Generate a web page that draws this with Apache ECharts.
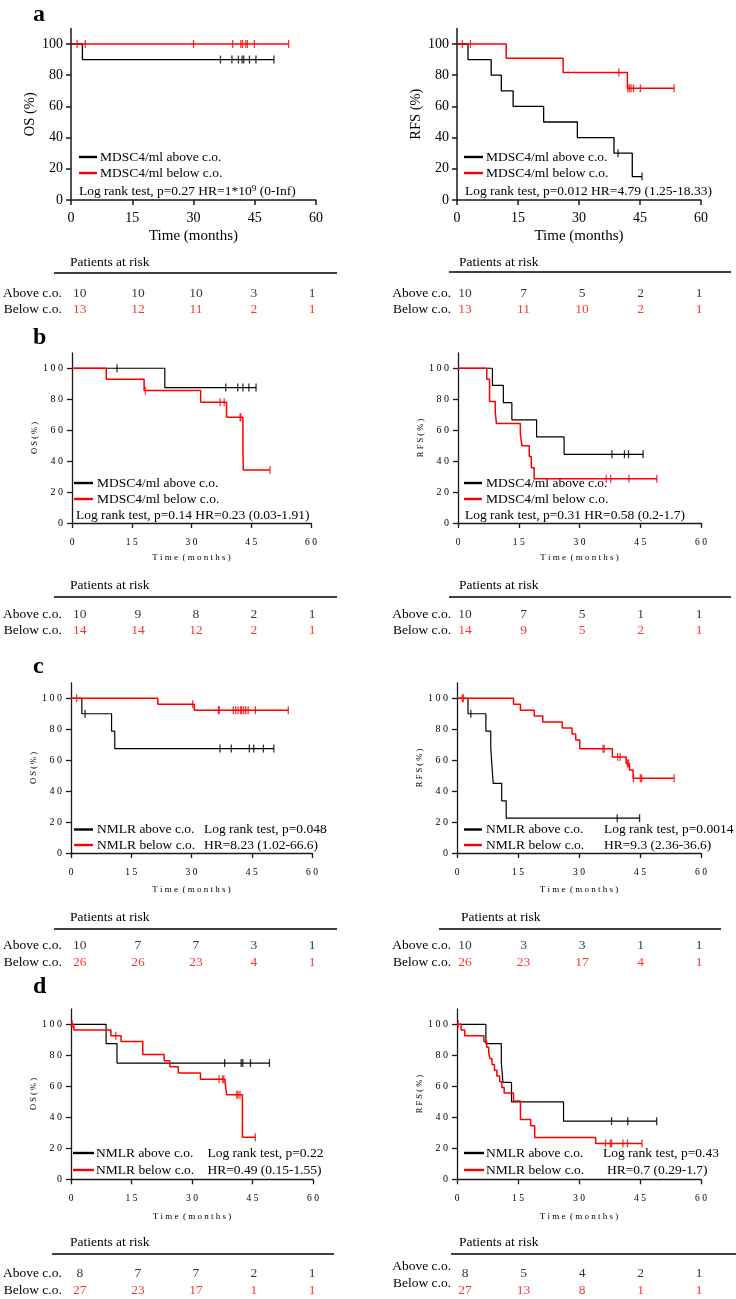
<!DOCTYPE html>
<html><head><meta charset="utf-8">
<script src="https://cdn.jsdelivr.net/npm/echarts@6/dist/echarts.min.js"></script>
<style>html,body{margin:0;padding:0;background:#fff}#c{width:736px;height:1299px}</style>
</head><body><div id="c"></div>
<script>
// ---------------- DATA ----------------
const timeTicks = [0, 15, 30, 45, 60];
const survTicks = [0, 20, 40, 60, 80, 100];
const groupLabels = ['Above c.o.', 'Below c.o.'];

// Panel a - OS
const aOS_above = [[0,100],[2.8,90],[49.7,90]];
const aOS_aboveCens = [[36.6,90],[39.4,90],[41.0,90],[41.9,90],[42.3,90],[43.7,90],[45.3,90],[49.7,90]];
const aOS_below = [[0,100],[53.3,100]];
const aOS_belowCens = [[1.5,100],[3.5,100],[30,100],[39.6,100],[41.6,100],[42.0,100],[42.8,100],[43.2,100],[44.9,100],[53.3,100]];
const aOS_riskAbove = [10,10,10,3,1];
const aOS_riskBelow = [13,12,11,2,1];
// Panel a - RFS
const aRFS_above = [[0,100],[2.7,90],[8.4,80],[10.9,70],[13.8,60],[21.3,50],[29.6,40],[38.6,30],[43.1,15],[45.5,15]];
const aRFS_aboveCens = [[39.6,30],[45.5,15]];
const aRFS_below = [[0,100],[12.1,90.9],[26.1,81.8],[41.9,71.6],[53.4,71.6]];
const aRFS_belowCens = [[1.3,100],[3.3,100],[39.8,81.8],[42.0,71.6],[42.4,71.6],[42.8,71.6],[43.4,71.6],[45.1,71.6],[53.4,71.6]];
const aRFS_riskAbove = [10,7,5,2,1];
const aRFS_riskBelow = [13,11,10,2,1];
// Panel b - OS
const bOS_above = [[0,100],[23.3,87.5],[46.2,87.5]];
const bOS_aboveCens = [[11.3,100],[38.6,87.5],[41.6,87.5],[42.9,87.5],[44.4,87.5],[46.2,87.5]];
const bOS_below = [[0,100],[8.6,92.9],[18.1,85.7],[32.3,78.0],[38.8,68.3],[42.9,51.3],[43.0,34.2],[49.7,34.2]];
const bOS_belowCens = [[18.4,85.7],[37.2,78.0],[38.2,78.0],[42.2,68.3],[42.4,68.3],[49.7,34.2]];
const bOS_riskAbove = [10,9,8,2,1];
const bOS_riskBelow = [14,14,12,2,1];
// Panel b - RFS
const bRFS_above = [[0,100],[8.5,88.9],[11.2,77.8],[13.3,66.7],[19.4,55.6],[26.2,44.4],[45.7,44.4]];
const bRFS_aboveCens = [[38.0,44.4],[41.1,44.4],[42.1,44.4],[45.7,44.4]];
const bRFS_below = [[0,100],[7.1,92.9],[7.8,78.6],[9.2,71.4],[9.5,64.3],[15.4,57.1],[15.8,50],[17.6,42.9],[18.1,35.7],[18.8,28.6],[49.1,28.6]];
const bRFS_belowCens = [[36.6,28.6],[37.7,28.6],[42.2,28.6],[49.1,28.6]];
const bRFS_riskAbove = [10,7,5,1,1];
const bRFS_riskBelow = [14,9,5,2,1];
// Panel c - OS
const cOS_above = [[0,100],[2.7,90],[10.1,78.75],[10.9,67.5],[50.5,67.5]];
const cOS_aboveCens = [[3.5,90],[37.1,67.5],[39.9,67.5],[44.4,67.5],[45.5,67.5],[47.9,67.5],[50.5,67.5]];
const cOS_below = [[0,100],[21.6,96.2],[30.7,92.3],[54.1,92.3]];
const cOS_belowCens = [[1.4,100],[30.3,96.2],[36.7,92.3],[36.9,92.3],[40.4,92.3],[41.0,92.3],[41.6,92.3],[42.2,92.3],[42.5,92.3],[43.0,92.3],[43.5,92.3],[44.1,92.3],[45.9,92.3],[54.1,92.3]];
const cOS_riskAbove = [10,7,7,3,1];
const cOS_riskBelow = [26,26,23,4,1];
// Panel c - RFS
const cRFS_above = [[0,100],[2.7,90],[7.1,78.75],[8.3,67.5],[8.6,56.25],[8.9,45],[11.0,33.75],[12.1,22.5],[44.9,22.5]];
const cRFS_aboveCens = [[3.4,90],[39.4,22.5],[44.9,22.5]];
const cRFS_below = [[0,100],[13.9,96.2],[15.6,92.3],[19.0,88.5],[21.1,84.6],[25.9,80.8],[28.3,76.9],[29.2,73.1],[30.2,67.3],[38.2,62.1],[41.6,57.9],[42.4,53.6],[43.3,48.3],[53.4,48.3]];
const cRFS_belowCens = [[1.3,100],[1.6,100],[35.9,67.3],[36.2,67.3],[39.5,62.1],[40.1,62.1],[41.9,57.9],[42.2,57.9],[43.4,48.3],[45.1,48.3],[45.4,48.3],[53.4,48.3]];
const cRFS_riskAbove = [10,3,3,1,1];
const cRFS_riskBelow = [26,23,17,4,1];
// Panel d - OS
const dOS_above = [[0,100],[8.7,87.5],[11.4,75],[49.2,75]];
const dOS_aboveCens = [[38.1,75],[42.2,75],[42.6,75],[44.5,75],[49.2,75]];
const dOS_below = [[0,100],[0.7,96.3],[9.9,92.6],[12.4,88.9],[17.8,80.5],[23.1,76.5],[24.5,72.6],[26.6,68.6],[32.1,64.5],[38.2,62.5],[38.6,54.5],[42.5,27.2],[45.7,27.2]];
const dOS_belowCens = [[0.3,100],[11.1,92.6],[36.7,64.5],[37.6,64.5],[37.9,64.5],[41.1,54.5],[41.4,54.5],[41.9,54.5],[45.7,27.2]];
const dOS_riskAbove = [8,7,7,2,1];
const dOS_riskBelow = [27,23,17,1,1];
// Panel d - RFS
const dRFS_above = [[0,100],[7.1,87.5],[10.9,75],[11.3,62.5],[13.4,50],[26.2,37.5],[49.1,37.5]];
const dRFS_aboveCens = [[38.0,37.5],[42.0,37.5],[49.1,37.5]];
const dRFS_below = [[0,100],[1.0,96.3],[1.9,92.6],[6.6,88.9],[7.3,85.2],[7.8,81.5],[8.1,77.8],[8.6,74.1],[9.2,70.4],[9.8,66.7],[10.5,63.0],[11.0,59.3],[11.6,55.6],[13.9,50.5],[15.6,38.6],[18.1,34.6],[19.1,26.9],[34.1,23.1],[45.5,23.1]];
const dRFS_belowCens = [[0.3,100],[36.5,23.1],[37.7,23.1],[38.0,23.1],[40.8,23.1],[41.9,23.1],[45.5,23.1]];
const dRFS_riskAbove = [8,5,4,2,1];
const dRFS_riskBelow = [27,13,8,1,1];

const legendMDSC = ['MDSC4/ml above c.o.', 'MDSC4/ml below c.o.'];
const legendNMLR = ['NMLR above c.o.', 'NMLR below c.o.'];
const stat_aOS = ['Log rank test, p=0.27 HR=1*10\u2079 (0-Inf)'];
const stat_aRFS = ['Log rank test, p=0.012 HR=4.79 (1.25-18.33)'];
const stat_bOS = ['Log rank test, p=0.14 HR=0.23 (0.03-1.91)'];
const stat_bRFS = ['Log rank test, p=0.31 HR=0.58 (0.2-1.7)'];
const stat_cOS = ['Log rank test, p=0.048', 'HR=8.23 (1.02-66.6)'];
const stat_cRFS = ['Log rank test, p=0.0014', 'HR=9.3 (2.36-36.6)'];
const stat_dOS = ['Log rank test, p=0.22', 'HR=0.49 (0.15-1.55)'];
const stat_dRFS = ['Log rank test, p=0.43', 'HR=0.7 (0.29-1.7)'];

// ---------------- LAYOUT ----------------
const FONT = "'Liberation Serif','Times New Roman',serif";
const RED = '#ff0000', BLK = '#000000', AX = '#1a1a1a';

const panels = [
 {big:true, yName:'OS (%)', left:71, width:245, top:28.4, h:171.6, xNameGap:29,
  above:aOS_above, aboveC:aOS_aboveCens, below:aOS_below, belowC:aOS_belowCens, rA:aOS_riskAbove, rB:aOS_riskBelow,
  riskLeft:76, riskW:236, riskTop:285, riskH:32, rowMargin:18, ptX:70, ptY:262, ruleX1:54, ruleX2:337, ruleY:273,
  legNames:legendMDSC, lx1:79, lx2:97, tx:100, ly:[157,173], stat:stat_aOS, sx:[79], sy:[191]},
 {big:true, yName:'RFS (%)', left:457, width:244, top:28.4, h:171.6, xNameGap:29,
  above:aRFS_above, aboveC:aRFS_aboveCens, below:aRFS_below, belowC:aRFS_belowCens, rA:aRFS_riskAbove, rB:aRFS_riskBelow,
  riskLeft:465, riskW:234, riskTop:285, riskH:32, rowMargin:14, ptX:459, ptY:262, ruleX1:449, ruleX2:731, ruleY:272,
  legNames:legendMDSC, lx1:464, lx2:483, tx:486, ly:[157,173], stat:stat_aRFS, sx:[465], sy:[191]},
 {big:false, yName:'OS (%)', left:72, width:239, top:352.8, h:170.2, xNameGap:30,
  above:bOS_above, aboveC:bOS_aboveCens, below:bOS_below, belowC:bOS_belowCens, rA:bOS_riskAbove, rB:bOS_riskBelow,
  riskLeft:76, riskW:236, riskTop:606, riskH:32, rowMargin:18, ptX:70, ptY:585, ruleX1:54, ruleX2:337, ruleY:597,
  legNames:legendMDSC, lx1:74, lx2:93, tx:97, ly:[483,499], stat:stat_bOS, sx:[76], sy:[515]},
 {big:false, yName:'RFS (%)', left:458, width:243, top:352.8, h:170.2, xNameGap:30,
  above:bRFS_above, aboveC:bRFS_aboveCens, below:bRFS_below, belowC:bRFS_belowCens, rA:bRFS_riskAbove, rB:bRFS_riskBelow,
  riskLeft:465, riskW:234, riskTop:606, riskH:32, rowMargin:14, ptX:459, ptY:585, ruleX1:449, ruleX2:731, ruleY:597,
  legNames:legendMDSC, lx1:464, lx2:482, tx:486, ly:[483,499], stat:stat_bRFS, sx:[465], sy:[515]},
 {big:false, yName:'OS (%)', left:71, width:241, top:682.8, h:170.2, xNameGap:32,
  above:cOS_above, aboveC:cOS_aboveCens, below:cOS_below, belowC:cOS_belowCens, rA:cOS_riskAbove, rB:cOS_riskBelow,
  riskLeft:76, riskW:236, riskTop:936.5, riskH:34, rowMargin:18, ptX:70, ptY:917, ruleX1:54, ruleX2:337, ruleY:929,
  legNames:legendNMLR, lx1:74, lx2:93, tx:97, ly:[829.5,845], stat:stat_cOS, sx:[204,204], sy:[829.5,845]},
 {big:false, yName:'RFS (%)', left:457, width:244, top:682.8, h:170.2, xNameGap:32,
  above:cRFS_above, aboveC:cRFS_aboveCens, below:cRFS_below, belowC:cRFS_belowCens, rA:cRFS_riskAbove, rB:cRFS_riskBelow,
  riskLeft:465, riskW:234, riskTop:936.5, riskH:34, rowMargin:14, ptX:461, ptY:917, ruleX1:439, ruleX2:721, ruleY:929,
  legNames:legendNMLR, lx1:464, lx2:482, tx:486, ly:[829.5,845], stat:stat_cRFS, sx:[604,604], sy:[829.5,845]},
 {big:false, yName:'OS (%)', left:71, width:242, top:1008.8, h:170.5, xNameGap:33,
  above:dOS_above, aboveC:dOS_aboveCens, below:dOS_below, belowC:dOS_belowCens, rA:dOS_riskAbove, rB:dOS_riskBelow,
  riskLeft:76, riskW:236, riskTop:1265.5, riskH:34, rowMargin:18, ptX:70, ptY:1242, ruleX1:52, ruleX2:334, ruleY:1254,
  legNames:legendNMLR, lx1:73, lx2:94, tx:96, ly:[1153,1170], stat:stat_dOS, sx:[207.5,207.5], sy:[1153,1170]},
 {big:false, yName:'RFS (%)', left:457, width:244, top:1008.8, h:170.5, xNameGap:33,
  above:dRFS_above, aboveC:dRFS_aboveCens, below:dRFS_below, belowC:dRFS_belowCens, rA:dRFS_riskAbove, rB:dRFS_riskBelow,
  riskLeft:465, riskW:234, riskTop:1265.5, riskH:34, rowMargin:14, rowLabelUp:true, ptX:459, ptY:1242, ruleX1:451, ruleX2:736, ruleY:1254,
  legNames:legendNMLR, lx1:464, lx2:484, tx:486, ly:[1153,1170], stat:stat_dRFS, sx:[603,607], sy:[1153,1170]}
];
const letters = [['a',15],['b',338],['c',667],['d',987]];

const spaced = s => String(s).split('').join(' ');

const grid = [], xAxis = [], yAxis = [], series = [], graphic = [];
panels.forEach((p, i) => {
  const gi = grid.length;
  const lw = p.big ? 1.5 : 1.3;
  grid.push({left:p.left, top:p.top, width:p.width, height:p.h, containLabel:false});
  xAxis.push({gridIndex:gi, type:'value', min:0, max:60, interval:15,
    axisLine:{show:true, onZero:false, lineStyle:{color:AX, width:lw}},
    axisTick:{show:true, length:5, lineStyle:{color:AX, width:lw}},
    splitLine:{show:false},
    axisLabel:{margin:p.big?11:14, color:'#000', fontFamily:FONT, fontSize:p.big?14:9.5,
      formatter: v => p.big ? String(v) : spaced(v)},
    name: p.big ? 'Time (months)' : 'T i m e  ( m o n t h s )',
    nameLocation:'middle', nameGap:p.xNameGap,
    nameTextStyle:{color:'#000', fontFamily:FONT, fontSize:p.big?15:9}});
  yAxis.push({gridIndex:gi, type:'value', min:0, max:110, interval:20,
    axisLine:{show:true, onZero:false, lineStyle:{color:AX, width:lw}},
    axisTick:{show:true, length:5, customValues:survTicks, lineStyle:{color:AX, width:lw}},
    splitLine:{show:false},
    axisLabel:{customValues:survTicks, margin:p.big?8:9, color:'#000', fontFamily:FONT, fontSize:p.big?14:10,
      formatter: v => v > 100 ? '' : (p.big ? String(v) : spaced(v))},
    name: p.big ? p.yName : spaced(p.yName.replace(' ', '')),
    nameLocation:'middle', nameGap:p.big?28:31, nameRotate:90,
    nameTextStyle:{color:'#000', fontFamily:FONT, fontSize:p.big?14.5:8.5}});
  const cw = p.big ? 1.3 : 1.2;
  series.push({type:'line', xAxisIndex:gi, yAxisIndex:gi, data:p.above, step:'end', symbol:'none',
    lineStyle:{color:BLK, width:cw}, silent:true, z:2});
  series.push({type:'scatter', xAxisIndex:gi, yAxisIndex:gi, data:p.aboveC, symbol:'rect', symbolSize:[1.3,8],
    itemStyle:{color:BLK}, silent:true, z:2});
  series.push({type:'line', xAxisIndex:gi, yAxisIndex:gi, data:p.below, step:'end', symbol:'none',
    lineStyle:{color:RED, width:1.5}, silent:true, z:3});
  series.push({type:'scatter', xAxisIndex:gi, yAxisIndex:gi, data:p.belowC, symbol:'rect', symbolSize:[1.3,8],
    itemStyle:{color:RED}, silent:true, z:3});

  // risk table grid
  const ri = grid.length;
  grid.push({left:p.riskLeft, top:p.riskTop, width:p.riskW, height:p.riskH, containLabel:false});
  xAxis.push({gridIndex:ri, type:'value', min:0, max:60, interval:15, show:false});
  yAxis.push({gridIndex:ri, type:'category', data:groupLabels, inverse:true,
    axisLine:{show:false}, axisTick:{show:false}, splitLine:{show:false},
    axisLabel:{interval:0, hideOverlap:false, margin:p.rowMargin, color:'#000', fontFamily:FONT, fontSize:13.5,
      verticalAlign: p.rowLabelUp ? 'bottom' : 'middle'}});
  [[p.rA, groupLabels[0], BLK], [p.rB, groupLabels[1], RED]].forEach(([arr, g, col]) => {
    series.push({type:'scatter', xAxisIndex:ri, yAxisIndex:ri, symbolSize:0, silent:true,
      data: arr.map((n, k) => [timeTicks[k], g, n]),
      label:{show:true, position:'inside', color:col, fontFamily:FONT, fontSize:13.5,
        formatter: q => String(q.value[2])}});
  });

  // risk table header + rule
  graphic.push({type:'text', x:p.ptX, y:p.ptY, silent:true,
    style:{text:'Patients at risk', fill:'#000', font:'13.5px ' + FONT, align:'left', verticalAlign:'middle', textAlign:'left', textVerticalAlign:'middle'}});
  graphic.push({type:'line', silent:true, shape:{x1:p.ruleX1, y1:p.ruleY, x2:p.ruleX2, y2:p.ruleY},
    style:{stroke:'#000', lineWidth:1.6}});

  // legend
  [BLK, RED].forEach((col, k) => {
    graphic.push({type:'line', silent:true, shape:{x1:p.lx1, y1:p.ly[k], x2:p.lx2, y2:p.ly[k]},
      style:{stroke:col, lineWidth:2.4}});
    graphic.push({type:'text', x:p.tx, y:p.ly[k], silent:true,
      style:{text:p.legNames[k], fill:'#000', font:'13.5px ' + FONT, align:'left', verticalAlign:'middle', textAlign:'left', textVerticalAlign:'middle'}});
  });
  p.stat.forEach((s, k) => {
    graphic.push({type:'text', x:p.sx[k], y:p.sy[k], silent:true,
      style:{text:s, fill:'#000', font:'13.5px ' + FONT, align:'left', verticalAlign:'middle', textAlign:'left', textVerticalAlign:'middle'}});
  });
});
letters.forEach(([t, y]) => {
  graphic.push({type:'text', x:33, y:y, silent:true,
    style:{text:t, fill:'#000', font:'bold 24px ' + FONT, align:'left', verticalAlign:'middle', textAlign:'left', textVerticalAlign:'middle'}});
});

const chart = echarts.init(document.getElementById('c'), null, {renderer:'canvas'});
chart.setOption({animation:false, backgroundColor:'#fff', grid, xAxis, yAxis, series, graphic});
</script></body></html>
